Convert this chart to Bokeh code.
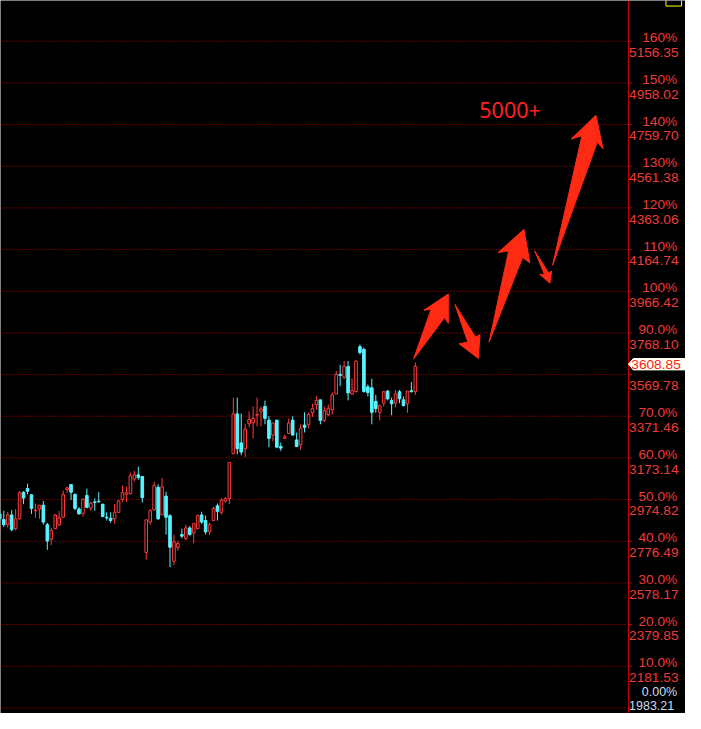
from bokeh.plotting import figure
from bokeh.models import Range1d
from bokeh.core.properties import value
from bokeh.embed import file_html
from bokeh.resources import INLINE

# ---------------- data ----------------
opens = [2906.3, 2879.8, 2855.1, 2901.6, 2836.5, 2883.0, 3010.1, 3027.3, 2998.0, 2921.7,
         2929.6, 2948.2, 2855.1, 2786.7, 2836.5, 2855.1, 2891.0, 3022.7, 3046.0, 2999.4,
         2929.6, 2909.6, 2994.7, 2934.2, 2963.6, 2966.8, 2952.9, 2891.0, 2886.3, 2883.0,
         2914.2, 2976.1, 2999.4, 3002.7, 3072.5, 3092.5, 3084.6, 2723.4, 2867.7, 2926.3,
         3033.4, 2901.6, 2991.5, 2898.4, 2681.4, 2746.6, 2808.5, 2789.9, 2839.8, 2816.5,
         2836.5, 2901.6, 2875.1, 2821.1, 2875.1, 2944.9, 2914.2, 2968.2, 2979.4, 3193.5,
         3382.7, 3244.7, 3216.8, 3335.9, 3340.5, 3377.1, 3395.0, 3418.3, 3353.1, 3281.9,
         3353.1, 3227.4, 3266.1, 3289.4, 3353.1, 3258.7, 3235.4, 3329.9, 3333.1, 3387.6,
         3426.7, 3449.5, 3351.7, 3379.7, 3403.0, 3477.5, 3570.6, 3556.7, 3607.9, 3477.5,
         3488.9, 3702.4, 3689.8, 3511.2, 3506.6, 3442.2, 3390.2, 3433.7, 3491.5, 3446.2,
         3433.7, 3488.2, 3449.5, 3430.9, 3492.9, 3488.2]
highs = [2924.9, 2921.7, 2915.6, 2924.9, 2929.6, 3014.8, 3014.8, 3050.6, 2998.0, 2956.1,
         2948.2, 2968.2, 2864.4, 2839.8, 2906.3, 2920.3, 3018.0, 3036.6, 3046.0, 3004.0,
         2938.9, 2980.8, 3027.3, 2963.6, 2980.8, 3010.1, 2952.9, 2914.2, 2914.2, 2952.9,
         2971.5, 3041.3, 3035.2, 3103.2, 3111.1, 3131.1, 3084.6, 2878.4, 2929.6, 3060.0,
         3047.4, 3078.5, 3012.0, 2904.9, 2808.5, 2777.4, 2836.5, 2855.1, 2849.1, 2864.4,
         2903.0, 2917.0, 2898.4, 2864.4, 2940.3, 2956.1, 2980.8, 2986.8, 3151.6, 3460.2,
         3460.2, 3384.5, 3335.9, 3395.0, 3418.3, 3460.2, 3418.3, 3446.2, 3371.8, 3339.2,
         3353.1, 3246.1, 3283.3, 3361.1, 3371.8, 3294.1, 3333.1, 3390.4, 3387.6, 3430.9,
         3468.1, 3449.5, 3418.3, 3426.7, 3484.9, 3586.4, 3616.3, 3634.5, 3634.5, 3550.6,
         3639.2, 3713.1, 3697.8, 3522.4, 3550.6, 3472.8, 3426.7, 3492.9, 3496.1, 3460.2,
         3496.1, 3496.1, 3465.4, 3491.5, 3534.8, 3627.1]
lows = [2873.7, 2844.4, 2841.2, 2823.9, 2828.6, 2879.8, 2952.9, 2999.4, 2906.3, 2887.7,
        2883.0, 2855.1, 2735.5, 2758.8, 2833.2, 2849.1, 2887.7, 3005.4, 2972.9, 2924.9,
        2906.3, 2893.7, 2932.8, 2920.3, 2921.7, 2963.6, 2893.7, 2875.1, 2864.4, 2859.8,
        2911.0, 2963.6, 2963.6, 2999.4, 3061.3, 3069.2, 2960.8, 2688.9, 2855.1, 2921.7,
        2878.4, 2901.6, 2808.5, 2653.2, 2662.5, 2730.8, 2789.9, 2782.0, 2802.5, 2766.6,
        2833.2, 2859.8, 2808.5, 2805.3, 2875.1, 2875.1, 2903.0, 2960.8, 2952.9, 3190.3,
        3190.3, 3185.6, 3177.7, 3318.5, 3266.1, 3323.1, 3323.1, 3333.1, 3224.2, 3252.2,
        3219.6, 3205.5, 3266.1, 3286.6, 3278.7, 3224.2, 3212.1, 3294.1, 3314.5, 3368.5,
        3403.0, 3333.1, 3343.9, 3371.8, 3379.7, 3477.5, 3515.9, 3547.8, 3446.8, 3472.8,
        3484.2, 3664.6, 3484.2, 3465.4, 3333.1, 3387.6, 3351.7, 3418.3, 3446.8, 3376.4,
        3413.7, 3433.7, 3418.3, 3387.6, 3485.0, 3472.8]
closes = [2883.0, 2855.1, 2901.6, 2831.8, 2883.0, 3007.3, 2982.2, 3014.8, 2932.8, 2924.9,
          2948.2, 2867.7, 2777.4, 2828.6, 2901.6, 2887.7, 2998.0, 3030.6, 3010.1, 2932.8,
          2906.3, 2976.1, 2937.5, 2957.5, 2960.8, 2963.6, 2893.7, 2887.7, 2875.1, 2914.2,
          2968.2, 3007.3, 3007.3, 3087.8, 3092.5, 3079.9, 2984.0, 2878.4, 2921.7, 3041.3,
          2883.0, 3035.2, 2891.0, 2748.0, 2774.6, 2766.6, 2800.6, 2839.8, 2808.5, 2859.8,
          2898.4, 2867.7, 2821.1, 2855.1, 2932.8, 2918.9, 2971.5, 2979.4, 3151.6, 3382.7,
          3216.8, 3200.9, 3309.8, 3356.4, 3361.1, 3379.4, 3405.7, 3361.1, 3266.1, 3339.2,
          3224.2, 3219.6, 3274.0, 3339.2, 3281.9, 3227.4, 3314.5, 3318.5, 3379.7, 3407.6,
          3446.2, 3351.7, 3398.3, 3407.6, 3472.8, 3570.6, 3566.0, 3607.9, 3482.2, 3493.5,
          3633.2, 3674.5, 3488.9, 3484.2, 3390.2, 3407.6, 3421.8, 3488.2, 3454.3, 3430.9,
          3477.5, 3454.3, 3421.8, 3491.5, 3488.2, 3608.85]

base_price = 1983.21
last_price = 3608.85
pct_steps = [0, 10, 20, 30, 40, 50, 60, 70, 80, 90, 100, 110, 120, 130, 140, 150, 160]
pct_labels = ["0.00%", "10.0%", "20.0%", "30.0%", "40.0%", "50.0%", "60.0%", "70.0%", "80.0%",
              "90.0%", "100%", "110%", "120%", "130%", "140%", "150%", "160%"]
price_labels = ["1983.21", "2181.53", "2379.85", "2578.17", "2776.49", "2974.82", "3173.14",
                "3371.46", "3569.78", "3768.10", "3966.42", "4164.74", "4363.06", "4561.38",
                "4759.70", "4958.02", "5156.35"]
callout_text = "5000+"

# forecast arrows (candle index, price)
arrow_xs = [
    [104.54, 108.99, 107.16, 113.33, 113.33, 112.35],
    [114.99, 120.17, 121.33, 120.91, 116.05, 118.27],
    [123.63, 128.57, 125.93, 132.44, 133.93, 132.10],
    [135.16, 138.62, 139.43, 139.01, 136.40, 137.63],
    [139.68, 147.09, 144.37, 150.62, 152.44, 150.96],
]
arrow_ys = [
    [3643.2, 3880.6, 3875.9, 3953.7, 3814.0, 3840.5],
    [3903.9, 3748.9, 3759.6, 3646.5, 3716.3, 3724.2],
    [3724.2, 4158.5, 4150.6, 4260.9, 4101.3, 4127.3],
    [4158.5, 4054.7, 4062.2, 4004.9, 4046.8, 4046.8],
    [4090.1, 4706.4, 4690.6, 4804.2, 4644.0, 4675.2],
]

# ---------------- layout ----------------
W, H = 685, 713
REF_W, REF_H = 701.0, 729.0
X0, X1 = 0.173, 173.26
Y0, Y1 = 1956.67, 5350.17


def fx(px):
    return X0 + (X1 - X0) * px / REF_W


def fy(py):
    return Y1 - (Y1 - Y0) * py / REF_H


PX_PRICE = (Y1 - Y0) / REF_H  # price units per reference pixel

RED = "#FF3C3C"
CYAN = "#56F4FF"
GRID = "#D00000"
AXIS = "#C80000"
LBL = "#EE3A3A"
ZERO = "#C8DCF0"
FONT = value("Liberation Sans")

p = figure(width=W, height=H, output_backend="svg", toolbar_location=None,
           x_range=Range1d(X0, X1), y_range=Range1d(Y0, Y1),
           background_fill_color="black", border_fill_color="black",
           min_border=0, outline_line_color=None,
           x_axis_location=None, y_axis_location=None)
p.xgrid.visible = False
p.ygrid.visible = False

levels = [base_price * (1 + s / 100.0) for s in pct_steps]
axis_x = fx(642.7)

# dotted grid lines
p.segment(x0=[X0] * len(levels), x1=[axis_x] * len(levels), y0=levels, y1=levels,
          line_color=GRID, line_dash="1 2", line_width=1)
# axis line + ticks
p.segment(x0=[axis_x], x1=[axis_x], y0=[Y0], y1=[Y1], line_color=AXIS, line_width=1)
p.segment(x0=[axis_x] * len(levels), x1=[fx(646)] * len(levels), y0=levels, y1=levels,
          line_color=AXIS, line_width=1)

# candles
idx = list(range(len(opens)))
up = [c >= o for o, c in zip(opens, closes)]
cols = [RED if u else CYAN for u in up]
fills = ["black" if u else CYAN for u in up]
tops = [max(o, c) for o, c in zip(opens, closes)]
bots = [min(o, c) for o, c in zip(opens, closes)]
p.segment(x0=idx, x1=idx, y0=lows, y1=highs, line_color=cols, line_width=1)
p.vbar(x=idx, width=0.66, top=tops, bottom=bots, fill_color=fills, line_color=cols, line_width=1)

# arrows
p.patches(xs=arrow_xs, ys=arrow_ys, fill_color="#FF2A14", line_color="#FF2A14", line_width=1)

# callout text
p.text(x=[fx(490)], y=[fy(111.7)], text=[callout_text], text_font=value("Noto Sans"),
       text_font_size="21.5px", text_color="#FF2020", text_baseline="alphabetic", text_align="left")

# right labels: percent (above each line) and price (below each line)
mid = [i for i, s in enumerate(pct_steps) if s not in (0, 80)]
p.text(x=[fx(692.5)] * len(mid), y=[levels[i] for i in mid], text=[pct_labels[i] for i in mid],
       text_align="right", text_baseline="alphabetic", y_offset=-3.3, text_font=FONT,
       text_font_size="13.7px", text_color=LBL)
up_lv = [i for i, s in enumerate(pct_steps) if s != 0]
p.text(x=[fx(643.2)] * len(up_lv), y=[levels[i] for i in up_lv], text=[price_labels[i] for i in up_lv],
       text_align="left", text_baseline="alphabetic", y_offset=11.3, text_font=FONT,
       text_font_size="13.7px", text_color=LBL)
# bottom pair (base level), nudged up so that it stays inside the frame
p.text(x=[fx(692.5)], y=[levels[0]], text=[pct_labels[0]], text_align="right",
       text_baseline="alphabetic", y_offset=-15.5, text_font=FONT,
       text_font_size="12.5px", text_color=ZERO)
p.text(x=[fx(643.2)], y=[levels[0]], text=[price_labels[0]], text_align="left",
       text_baseline="alphabetic", y_offset=-2.5, text_font=FONT,
       text_font_size="12.5px", text_color=ZERO)

# current price marker
mark_y = last_price + 2.2 * PX_PRICE
hh = 5.8 * PX_PRICE
p.patch(x=[axis_x, fx(647.5), fx(703), fx(703), fx(647.5)],
        y=[mark_y, mark_y + hh, mark_y + hh, mark_y - hh, mark_y - hh],
        fill_color="#FFFFF2", line_color="#FFFFF2")
p.text(x=[fx(645.5)], y=[mark_y], text=[f"{last_price:.2f}"], text_align="left",
       text_baseline="middle", text_font=FONT, text_font_size="13.7px", text_color="#FF1A1A")

# small yellow box at the top right
p.quad(left=[fx(681)], right=[fx(697)], top=[fy(-3)], bottom=[fy(5.7)],
       fill_color=None, line_color="#FFFF00", line_width=1)

open("out.html", "w").write(file_html(p, INLINE))
